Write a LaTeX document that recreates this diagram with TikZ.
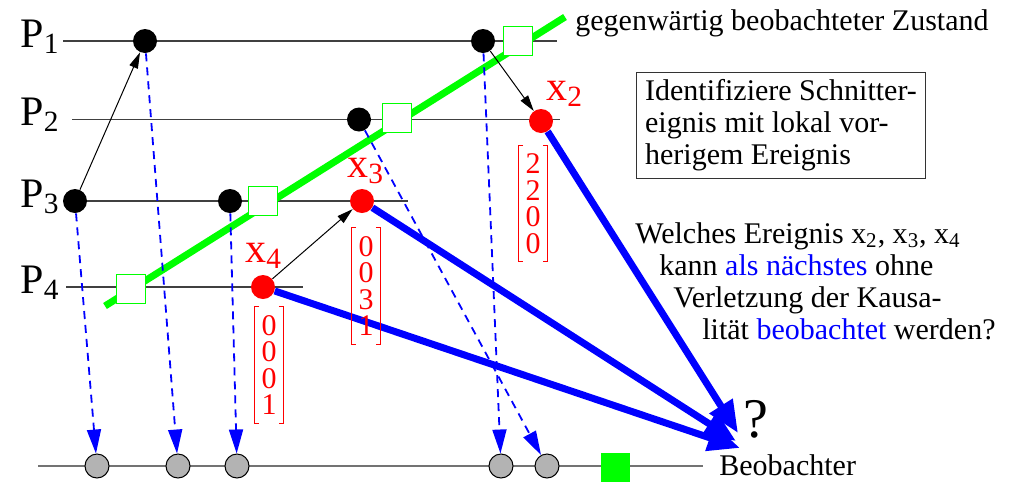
\documentclass[tikz,border=0pt]{standalone}
\usepackage{fontspec}
\setmainfont{Liberation Serif}
\usetikzlibrary{arrows.meta,backgrounds}
\definecolor{cutgreen}{RGB}{0,255,0}
\definecolor{obsgray}{RGB}{179,179,179}
\newcommand{\bigfont}{\fontsize{21}{24}\selectfont}
\newcommand{\txtfont}{\fontsize{15}{16}\selectfont}
\newcommand{\vecfont}{\fontsize{15}{13.25}\selectfont}

\begin{document}
\begin{tikzpicture}[x=0.5pt,y=-0.5pt,
  proc/.style={line width=0.8pt,draw=black!75},
  event/.style={circle,fill=black,minimum size=12pt,inner sep=0pt},
  sendev/.style={event,fill=red},
  cut/.style={draw=cutgreen,fill=white,line width=0.8pt,minimum size=14.5pt,inner sep=0pt},
  seen/.style={circle,draw=black,fill=obsgray,line width=0.5pt,minimum size=12pt,inner sep=0pt},
  msg/.style={-{Triangle[length=8pt,width=4.5pt]},line width=0.5pt},
  obs/.style={-{Triangle[length=12pt,width=7pt]},draw=blue,line width=0.9pt,dash pattern=on 4pt off 3pt},
  cand/.style={-{Triangle[length=16pt,width=13pt]},draw=blue,line width=3.5pt},
  lbl/.style={font=\bigfont,anchor=base west,inner sep=0pt},
  vec/.style={red,font=\vecfont,align=center,inner xsep=3.5pt,inner ysep=4pt}
]
  \useasboundingbox (0,0) rectangle (1018,483);

  % process lines and the cut
  \begin{scope}[on background layer]
    \foreach \y/\a/\b in {41/63/557,119.5/72/560,201/66/408,287/66/303}
      \draw[proc] (\a,\y) -- (\b,\y);
    \draw[line width=0.8pt,draw=black!55] (38,466) -- (703,466);
    \draw[line width=3.5pt,draw=cutgreen] (105,306) -- (565,17);
  \end{scope}

  \foreach \i/\y in {1/41,2/119.5,3/201,4/287}
    \node[lbl] (p\i) at (20,{\y+6}) {P\textsubscript{\i}};

  \node[event] (a1) at (145,41) {};
  \node[event] (a2) at (483,41) {};
  \node[event] (b1) at (359,119.5) {};
  \node[event] (c1) at (75,201) {};
  \node[event] (c2) at (230,201) {};
  \node[sendev] (x2) at (541,121) {};
  \node[sendev] (x3) at (362,201) {};
  \node[sendev] (x4) at (263,287) {};

  \node[cut] (s1) at (518,41) {};
  \node[cut] (s2) at (397,118) {};
  \node[cut] (s3) at (263,201) {};
  \node[cut] (s4) at (131,289) {};

  \foreach \n/\x in {1/97,2/178,3/237,4/501,5/547}
    \node[seen] (o\n) at (\x,466) {};
  \node[fill=cutgreen,minimum size=14.5pt,inner sep=0pt] (now) at (615,467) {};

  \node[lbl,red] (lx2) at (546,100) {x\textsubscript{2}};
  \node[lbl,red] (lx3) at (347,177) {x\textsubscript{3}};
  \node[lbl,red] (lx4) at (245,262) {x\textsubscript{4}};

  \node[font=\txtfont,anchor=base west,inner sep=0pt] (state) at (575,30) {gegenwärtig beobachteter Zustand};
  \node[draw=black!80,line width=0.6pt,font=\txtfont,align=left,inner xsep=4.5pt,inner ysep=3.5pt]
    (hint) at (781,125.5) {Identifiziere Schnitter-\\eignis mit lokal vor-\\herigem Ereignis};
  \node[font=\txtfont,align=left,anchor=north west,inner sep=0pt] (ask) at (635,222)
    {Welches Ereignis x\textsubscript{2}, x\textsubscript{3}, x\textsubscript{4}\\
     \hspace*{12pt}kann \textcolor{blue}{als nächstes} ohne\\
     \hspace*{19pt}Verletzung der Kausa-\\
     \hspace*{33.5pt}lität \textcolor{blue}{beobachtet} werden?};
  \node[font=\fontsize{28}{30}\selectfont,anchor=base west,inner sep=0pt] (qm) at (743,437) {?};
  \node[font=\txtfont,anchor=base west,inner sep=0pt] (observer) at (719,475) {Beobachter};

  \draw[msg] (c1) -- (a1);
  \draw[msg] (a2) -- (x2);
  \draw[msg] (x4) -- (x3);

  \draw[obs] (c1) -- (o1);
  \draw[obs] (a1) -- (o2);
  \draw[obs] (c2) -- (o3);
  \draw[obs] (a2) -- (o4);
  \draw[obs] (b1) -- (o5);

  \coordinate (t2) at (738,433);
  \coordinate (t3) at (736,441);
  \coordinate (t4) at (740,448);
  \draw[cand] (x2) -- (t2);
  \draw[cand] (x3) -- (t3);
  \draw[cand] (x4) -- (t4);

  \node[vec] (v2) at (533,203.5) {2\\2\\0\\0};
  \node[vec] (v3) at (366,286) {0\\0\\3\\1};
  \node[vec] (v4) at (269,365) {0\\0\\0\\1};
  \foreach \v in {v2,v3,v4}
    \draw[red,line width=0.5pt]
      ([xshift=2.5pt]\v.north west) -- (\v.north west) -- (\v.south west) -- ([xshift=2.5pt]\v.south west)
      ([xshift=-2.5pt]\v.north east) -- (\v.north east) -- (\v.south east) -- ([xshift=-2.5pt]\v.south east);
\end{tikzpicture}
\end{document}
